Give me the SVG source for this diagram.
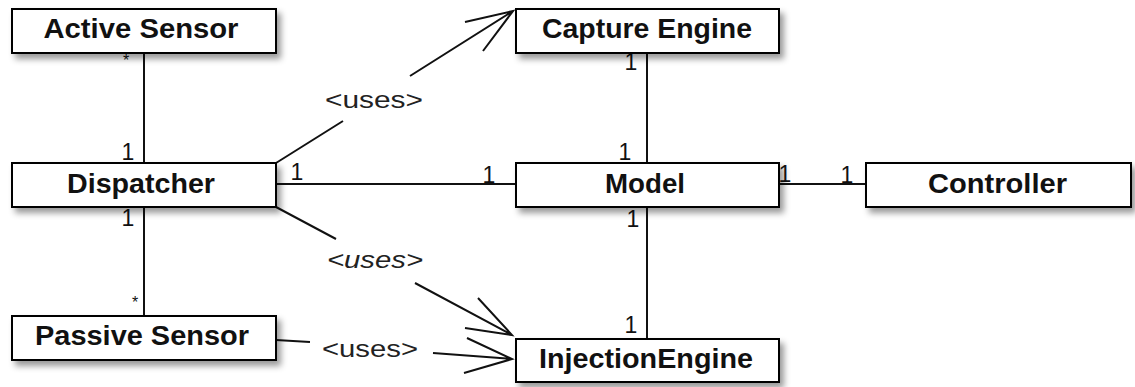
<svg xmlns="http://www.w3.org/2000/svg" width="1135" height="387" viewBox="0 0 1135 387">
  <defs>
    <filter id="shadow" x="-10%" y="-30%" width="125%" height="180%">
      <feDropShadow dx="4" dy="5" stdDeviation="3" flood-color="#000" flood-opacity="0.4"/>
    </filter>
    <style>
      .box { fill: #fff; stroke: #000; stroke-width: 2; filter: url(#shadow); }
      .name { font-family: "Liberation Sans", Arial, sans-serif; font-weight: bold; font-size: 27px; fill: #111; text-anchor: middle; }
      .line { fill: none; stroke: #111; stroke-width: 2; }
      .mult { font-family: "Liberation Sans", Arial, sans-serif; font-size: 23px; fill: #111; text-anchor: middle; }
      .star { font-family: "Liberation Sans", Arial, sans-serif; font-size: 16px; fill: #111; text-anchor: middle; }
      .stereo { font-family: "Liberation Sans", Arial, sans-serif; font-size: 24px; fill: #222; text-anchor: middle; }
    </style>
  </defs>
  <rect width="1135" height="387" fill="#fff"/>

  <g id="connectors">
    <!-- associations -->
    <path class="line" d="M144 53 V163"/>
    <path class="line" d="M144 207 V316"/>
    <path class="line" d="M647 53 V163"/>
    <path class="line" d="M647 207 V339"/>
    <path class="line" d="M276 184 H516"/>
    <path class="line" d="M779 184 H866"/>

    <!-- Dispatcher uses Capture Engine -->
    <path class="line" d="M276 163 L343 121 M410 76 L513 11 M465 22 L513 11 L483 51"/>
    <text class="stereo" x="374" y="108" textLength="98" lengthAdjust="spacingAndGlyphs">&lt;uses&gt;</text>

    <!-- Dispatcher uses InjectionEngine -->
    <path class="line" d="M276 207 L336 239 M415 283 L512 335 M478 298 L512 335 L465 328"/>
    <text class="stereo" x="375" y="268" font-style="italic" textLength="96" lengthAdjust="spacingAndGlyphs">&lt;uses&gt;</text>

    <!-- Passive Sensor uses InjectionEngine -->
    <path class="line" d="M276 340 L310 342 M433 353 L512 359 M467 338 L512 359 L464 373"/>
    <text class="stereo" x="370" y="357" textLength="96" lengthAdjust="spacingAndGlyphs">&lt;uses&gt;</text>

    <!-- multiplicities -->
    <text class="star" x="126" y="66">*</text>
    <text class="mult" x="128" y="160">1</text>
    <text class="mult" x="128" y="226">1</text>
    <text class="star" x="135" y="308">*</text>
    <text class="mult" x="297" y="180">1</text>
    <text class="mult" x="489" y="183">1</text>
    <text class="mult" x="631" y="70">1</text>
    <text class="mult" x="625" y="160">1</text>
    <text class="mult" x="633" y="227">1</text>
    <text class="mult" x="631" y="333">1</text>
    <text class="mult" x="785" y="182">1</text>
    <text class="mult" x="847" y="183">1</text>
  </g>

  <g id="active-sensor">
    <rect class="box" x="12" y="9" width="264" height="44"/>
    <text class="name" x="141" y="38" textLength="195" lengthAdjust="spacingAndGlyphs">Active Sensor</text>
  </g>
  <g id="capture-engine">
    <rect class="box" x="516" y="9" width="263" height="44"/>
    <text class="name" x="647" y="38" textLength="210" lengthAdjust="spacingAndGlyphs">Capture Engine</text>
  </g>
  <g id="dispatcher">
    <rect class="box" x="12" y="163" width="264" height="44"/>
    <text class="name" x="141" y="193" textLength="148" lengthAdjust="spacingAndGlyphs">Dispatcher</text>
  </g>
  <g id="model">
    <rect class="box" x="516" y="163" width="263" height="44"/>
    <text class="name" x="645" y="193" textLength="80" lengthAdjust="spacingAndGlyphs">Model</text>
  </g>
  <g id="controller">
    <rect class="box" x="866" y="163" width="265" height="44"/>
    <text class="name" x="997.5" y="193" textLength="139" lengthAdjust="spacingAndGlyphs">Controller</text>
  </g>
  <g id="passive-sensor">
    <rect class="box" x="12" y="316" width="264" height="44"/>
    <text class="name" x="142" y="345" textLength="214" lengthAdjust="spacingAndGlyphs">Passive Sensor</text>
  </g>
  <g id="injection-engine">
    <rect class="box" x="516" y="339" width="263" height="43"/>
    <text class="name" x="646" y="368" textLength="214" lengthAdjust="spacingAndGlyphs">InjectionEngine</text>
  </g>
</svg>
